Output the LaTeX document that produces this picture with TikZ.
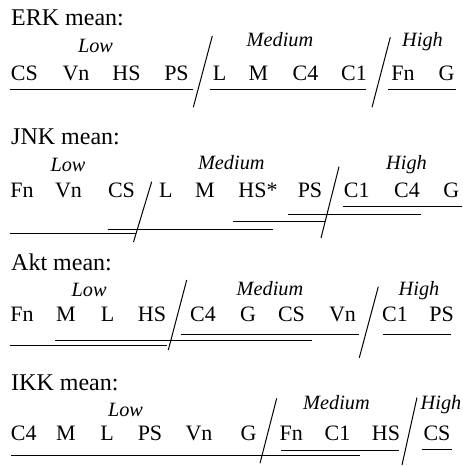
\documentclass[tikz,border=0pt]{standalone}
\usepackage{fontspec}
\setmainfont{Liberation Serif}
\begin{document}
\begin{tikzpicture}[x=1pt,y=-1pt,
  hdr/.style={anchor=base west,inner sep=0pt,font=\fontsize{24}{28}\selectfont},
  lab/.style={anchor=base,inner sep=0pt,font=\fontsize{22}{26}\selectfont},
  cat/.style={anchor=base,inner sep=0pt,font=\fontsize{20.3}{24}\selectfont\itshape},
  uline/.style={line width=1pt},
  sl/.style={line width=1pt}]
\useasboundingbox (0,0) rectangle (463,466);
% ---------------- ERK
\node[hdr] (erkh) at (11,25) {ERK mean:};
\node[cat] (erklow) at (95.5,52.7) {Low};
\node[cat] (erkmed) at (280,46.7) {Medium};
\node[cat] (erkhigh) at (422.5,46.7) {High};
\foreach \t/\x [count=\i] in {CS/24.3,Vn/76,HS/126.5,PS/176.5,L/219.5,M/258.5,C4/305.5,C1/354,Fn/403,G/446.5}
  \node[lab] (erk\i) at (\x,80) {\t};
\draw[uline] (10,89) -- (192.7,89);
\draw[uline] (210,89) -- (366.3,89);
\draw[uline] (388,89) -- (455.7,89);
\draw[sl] (212.3,36) -- (193.3,107.3);
\draw[sl] (390.3,37.3) -- (372,107.3);
% ---------------- JNK
\node[hdr] (jnkh) at (11,144.3) {JNK mean:};
\node[cat] (jnklow) at (68,171) {Low};
\node[cat] (jnkmed) at (231.3,169) {Medium};
\node[cat] (jnkhigh) at (406.5,169) {High};
\foreach \t/\x [count=\i] in {Fn/22,Vn/68.5,CS/121.5,L/165.8,M/205,HS*/258,PS/310,C1/356.8,C4/407,G/451.3}
  \node[lab] (jnk\i) at (\x,197.7) {\t};
\draw[uline] (10,233.3) -- (136.3,233.3);
\draw[uline] (107.7,229) -- (273.3,229);
\draw[uline] (232.7,221.7) -- (324.7,221.7);
\draw[uline] (288.3,214.3) -- (421.3,214.3);
\draw[uline] (343,206.7) -- (461.7,206.7);
\draw[sl] (151.7,181.7) -- (133.5,242);
\draw[sl] (339,166.7) -- (321,238);
% ---------------- Akt
\node[hdr] (akth) at (11,270) {Akt mean:};
\node[cat] (aktlow) at (89.2,296.7) {Low};
\node[cat] (aktmed) at (270,295) {Medium};
\node[cat] (akthigh) at (419,295) {High};
\foreach \t/\x [count=\i] in {Fn/22,M/66,L/107.5,HS/152,C4/203,G/248,CS/291.5,Vn/342.5,C1/395,PS/441.5}
  \node[lab] (akt\i) at (\x,321.7) {\t};
\draw[uline] (10,345.7) -- (166.7,345.7);
\draw[uline] (55,340) -- (311.7,340);
\draw[uline] (181,334.3) -- (359.3,334.3);
\draw[uline] (383.3,334.3) -- (450.7,334.3);
\draw[sl] (186.7,280) -- (168.3,350);
\draw[sl] (378.3,286.7) -- (359.3,357.7);
% ---------------- IKK
\node[hdr] (ikkh) at (11,390) {IKK mean:};
\node[cat] (ikklow) at (125.5,416.7) {Low};
\node[cat] (ikkmed) at (336.5,409) {Medium};
\node[cat] (ikkhigh) at (441,409) {High};
\foreach \t/\x [count=\i] in {C4/23.8,M/66,L/107,PS/150,Vn/199,G/248.5,Fn/291.3,C1/337.5,HS/386,CS/437}
  \node[lab] (ikk\i) at (\x,440.7) {\t};
\draw[uline] (281,450) -- (399.3,450);
\draw[uline] (421.7,449) -- (452,449);
\draw[uline] (11,455) -- (360,455);
\draw[sl] (276.7,398.3) -- (260,463.3);
\draw[sl] (417,397.5) -- (402,465);
\end{tikzpicture}
\end{document}
